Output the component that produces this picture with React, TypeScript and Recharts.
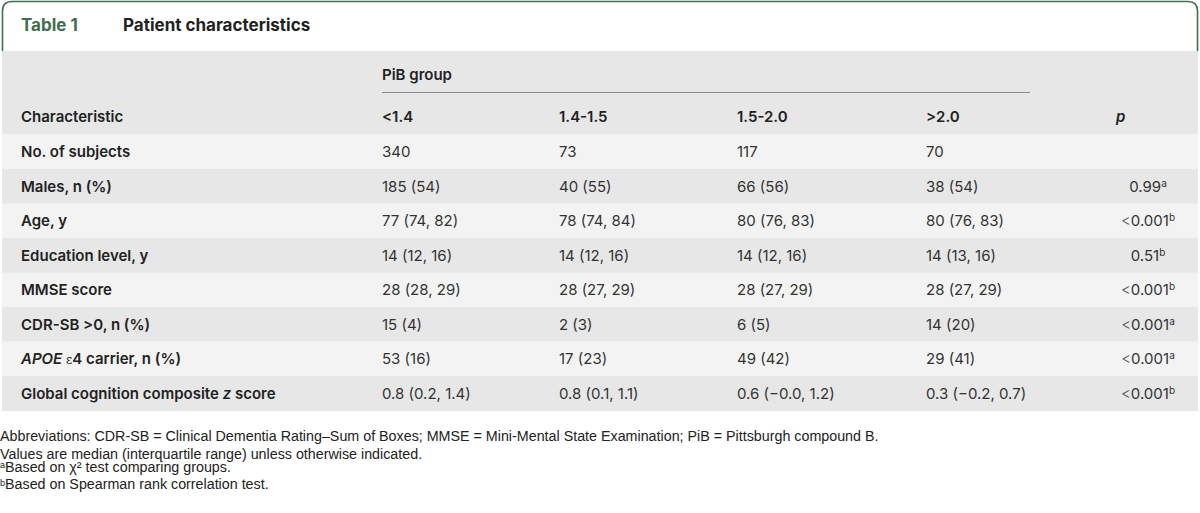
import React from 'react';
import { ComposedChart, XAxis, YAxis, Bar } from 'recharts';

// ---------- data ----------
const rowLabels = [
  'No. of subjects',
  'Males, n (%)',
  'Age, y',
  'Education level, y',
  'MMSE score',
  'CDR-SB >0, n (%)',
  'APOE ε4 carrier, n (%)',
  'Global cognition composite z score',
];
const groupHeaders = ['<1.4', '1.4-1.5', '1.5-2.0', '>2.0'];
const colLt14 = ['340', '185 (54)', '77 (74, 82)', '14 (12, 16)', '28 (28, 29)', '15 (4)', '53 (16)', '0.8 (0.2, 1.4)'];
const col1415 = ['73', '40 (55)', '78 (74, 84)', '14 (12, 16)', '28 (27, 29)', '2 (3)', '17 (23)', '0.8 (0.1, 1.1)'];
const col1520 = ['117', '66 (56)', '80 (76, 83)', '14 (12, 16)', '28 (27, 29)', '6 (5)', '49 (42)', '0.6 (−0.0, 1.2)'];
const colGt20 = ['70', '38 (54)', '80 (76, 83)', '14 (13, 16)', '28 (27, 29)', '14 (20)', '29 (41)', '0.3 (−0.2, 0.7)'];
const pPrefix = ['', '', '<', '', '<', '<', '<', '<'];
const pValues = ['', '0.99', '0.001', '0.51', '0.001', '0.001', '0.001', '0.001'];
const pNotes = ['', 'a', 'b', 'b', 'b', 'a', 'a', 'b'];
// full-width row stripes (fraction of table width)
const stripe = [1, 1, 1, 1, 1, 1, 1, 1];
const footnotes = [
  'Abbreviations: CDR-SB = Clinical Dementia Rating–Sum of Boxes; MMSE = Mini-Mental State Examination; PiB = Pittsburgh compound B.',
  'Values are median (interquartile range) unless otherwise indicated.',
];
const noteA = 'Based on χ² test comparing groups.';
const noteB = 'Based on Spearman rank correlation test.';

const rows = rowLabels.map((label, i) => ({
  label,
  stripe: stripe[i],
  c0: colLt14[i],
  c1: col1415[i],
  c2: col1520[i],
  c3: colGt20[i],
  pp: pPrefix[i],
  p: pValues[i],
  pn: pNotes[i],
}));

// ---------- style ----------
const W = 1200;
const H = 513;
const TOP = 134.5;
const BOTTOM = 410.5;
const FONT = 'Inter, "Open Sans", sans-serif';
const NARROW = '"Liberation Sans", Arial, sans-serif';
const COL_X = [382, 559, 737, 926];
const P_X = 1148;
const GREEN = '#3f6e50';
const DARK = '#e7e7e7';
const LIGHT = '#f3f3f3';

const renderLabel = (label: string) => {
  if (label.startsWith('APOE')) {
    return (
      <>
        <tspan fontStyle="italic">APOE</tspan>
        <tspan fontWeight={400} fontFamily='"DejaVu Serif", serif' fontSize={12}> ε</tspan>
        <tspan>4 carrier, n (%)</tspan>
      </>
    );
  }
  if (label.includes(' z ')) {
    const [a, b] = label.split(' z ');
    return (
      <>
        <tspan>{a} </tspan>
        <tspan fontStyle="italic">z</tspan>
        <tspan> {b}</tspan>
      </>
    );
  }
  return label;
};

// Each bar = one full-width table row; its band position comes from the category scale.
const RowShape = (props: any) => {
  const { x, y, width, height, index } = props;
  const r = rows[index];
  if (!r) return null;
  const cy = y + height / 2;
  return (
    <g>
      <rect x={x} y={y} width={width} height={height} fill={index % 2 === 0 ? LIGHT : DARK} />
      <text x={21} y={cy} dy="0.35em" fontFamily={FONT} fontSize={15} fontWeight={600} fill="#222">
        {renderLabel(r.label)}
      </text>
      {[r.c0, r.c1, r.c2, r.c3].map((v, k) => (
        <text key={k} x={COL_X[k]} y={cy} dy="0.35em" fontFamily={FONT} fontSize={15} fill="#333">
          {v}
        </text>
      ))}
      {r.p && (
        <text x={P_X} y={cy} dy="0.35em" fontFamily={FONT} fontSize={15} fill="#333" textAnchor="middle">
          {r.pp && <tspan fontWeight={300} fill="#555">{r.pp}</tspan>}
          <tspan>{r.p}</tspan>
          <tspan fontSize={10} dy="-0.5em">{r.pn}</tspan>
        </text>
      )}
    </g>
  );
};

export default function App() {
  return (
    <div style={{ position: 'fixed', left: 0, top: 0, width: W, height: H, background: '#fff', overflow: 'hidden' }}>
      <ComposedChart
        width={W}
        height={H}
        layout="vertical"
        data={rows}
        barCategoryGap={0}
        margin={{ top: TOP, bottom: H - BOTTOM, left: 2, right: 2 }}
      >
        <XAxis type="number" hide domain={[0, 1]} />
        <YAxis type="category" dataKey="label" width={0} hide />
        <Bar dataKey="stripe" isAnimationActive={false} shape={<RowShape />} />
      </ComposedChart>
      <svg width={W} height={H} style={{ position: 'absolute', left: 0, top: 0, pointerEvents: 'none' }}>
        {/* header frame */}
        <path
          d={`M2.5,51 L2.5,11 Q2.5,1.5 12,1.5 L1188,1.5 Q1197.5,1.5 1197.5,11 L1197.5,51`}
          fill="#fff"
          stroke={GREEN}
          strokeWidth={1.6}
        />
        <text x={21} y={25} dy="0.35em" fontFamily={FONT} fontSize={17} fontWeight={700} fill={GREEN}>
          Table 1
        </text>
        <text x={123} y={25} dy="0.35em" fontFamily={FONT} fontSize={17} fontWeight={700} fill="#222">
          Patient characteristics
        </text>
        {/* column header block */}
        <rect x={2} y={51} width={W - 4} height={TOP - 51} fill={DARK} />
        <text x={COL_X[0]} y={75} dy="0.35em" fontFamily={FONT} fontSize={15} fontWeight={600} fill="#222">
          PiB group
        </text>
        <line x1={COL_X[0]} x2={1030} y1={92.5} y2={92.5} stroke="#8a8a8a" strokeWidth={1} />
        <text x={21} y={117} dy="0.35em" fontFamily={FONT} fontSize={15} fontWeight={600} fill="#222">
          Characteristic
        </text>
        {groupHeaders.map((h, k) => (
          <text key={h} x={COL_X[k]} y={117} dy="0.35em" fontFamily={FONT} fontSize={15} fontWeight={600} fill="#222">
            {h}
          </text>
        ))}
        <text x={1116} y={117} dy="0.35em" fontFamily={FONT} fontSize={15} fontWeight={600} fontStyle="italic" fill="#222">
          p
        </text>
        {/* footnotes (condensed) */}
        <g transform="scale(0.953,1)">
          {footnotes.map((f, k) => (
            <text key={k} x={0} y={436 + k * 17.3} dy="0.35em" fontFamily={NARROW} fontSize={15} fill="#222">
              {f}
            </text>
          ))}
          <text x={0} y={470.6} dy="0.35em" fontFamily={NARROW} fontSize={15} fill="#222">
            <tspan fontSize={9.5} dy="-0.25em">a</tspan>
            <tspan dy="0.25em">{noteA}</tspan>
          </text>
          <text x={0} y={488} dy="0.35em" fontFamily={NARROW} fontSize={15} fill="#222">
            <tspan fontSize={9.5} dy="-0.25em">b</tspan>
            <tspan dy="0.25em">{noteB}</tspan>
          </text>
        </g>
      </svg>
    </div>
  );
}
